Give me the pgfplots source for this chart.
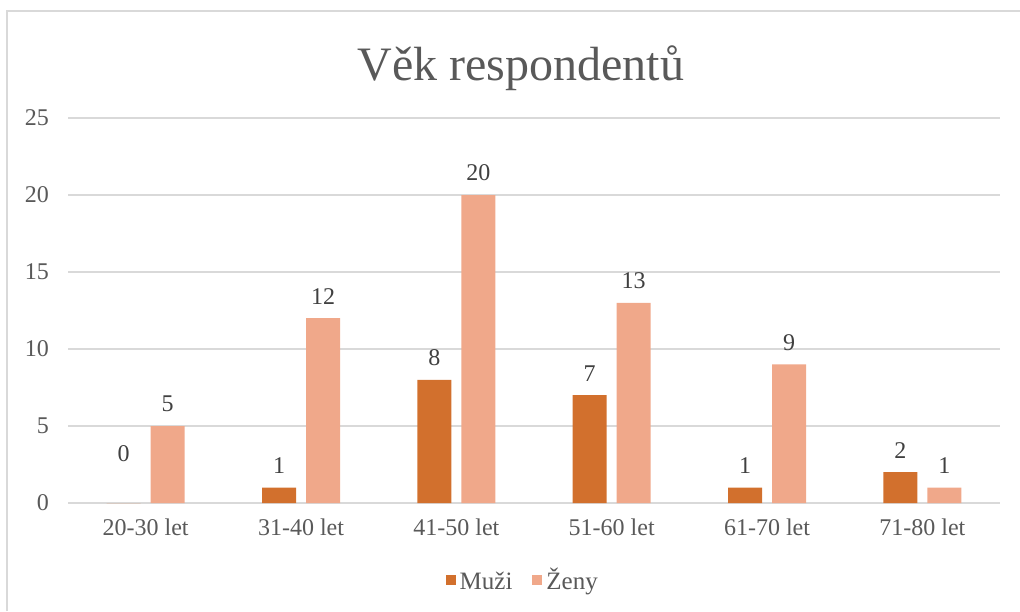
\documentclass[border=0pt]{standalone}
\usepackage{fontspec}
\setmainfont{Liberation Serif}
\usepackage{pgfplots}
\pgfplotsset{compat=1.18}
\definecolor{muzi}{RGB}{210,112,45}
\definecolor{zeny}{RGB}{240,168,138}
\definecolor{gridc}{RGB}{217,217,217}
\definecolor{txt}{RGB}{89,89,89}
\definecolor{lbl}{RGB}{64,64,64}
\pgfplotsset{/pgf/number format/assume math mode=true}

\begin{document}
\begin{tikzpicture}
\useasboundingbox (0,0) rectangle (510pt,-305.5pt);
\draw[gridc, line width=0.6pt] (3.5pt,-305.5pt) -- (3.5pt,-5.5pt) -- (510pt,-5.5pt);
\node[anchor=base, text=txt, font=\fontsize{24}{28}\selectfont] at (260.5pt,-40pt) {Věk respondentů};
\begin{axis}[
    at={(34pt,-251.5pt)}, anchor=south west,
    width=466pt, height=192.5pt, scale only axis,
    ybar=5pt, bar width=17pt,
    ymin=0, ymax=25, ytick={0,5,...,25},
    xmin=-0.5, xmax=5.5, xtick=data,
    xticklabels={20-30 let,31-40 let,41-50 let,51-60 let,61-70 let,71-80 let},
    axis line style={draw=none},
    major tick length=0pt,
    ymajorgrids, grid style={gridc, line width=0.6pt},
    tick label style={font=\fontsize{12}{14}\selectfont, text=txt},
    yticklabel style={xshift=-6pt},
    xticklabel style={yshift=-4.5pt},
    visualization depends on={rawy \as \ry},
    nodes near coords,
    every node near coord/.append style={font=\fontsize{12}{14}\selectfont, text=lbl,
        yshift={ifthenelse(\ry==0,17.3,3.5)}},
    legend columns=2,
    legend style={draw=none, at={(0.489,-0.21)}, anchor=center,
        font=\fontsize{12.5}{14}\selectfont, text=txt,
        nodes={text height=9pt, text depth=3pt, inner xsep=2pt},
        /tikz/every even column/.append style={column sep=8pt}},
    legend image code/.code={\fill[#1] (0pt,-0.5pt) rectangle (5pt,4.5pt);},
]
\addplot[fill=muzi, draw=none] coordinates {(0,0) (1,1) (2,8) (3,7) (4,1) (5,2)};
\addplot[fill=zeny, draw=none] coordinates {(0,5) (1,12) (2,20) (3,13) (4,9) (5,1)};
\legend{Muži,Ženy}
\end{axis}
\end{tikzpicture}
\end{document}
